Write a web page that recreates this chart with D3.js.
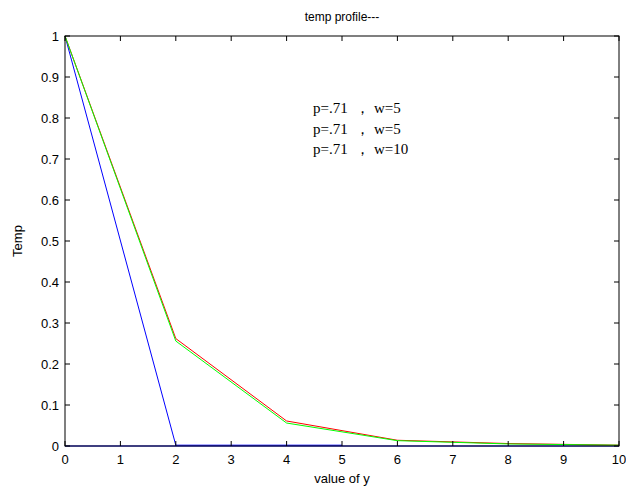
<!DOCTYPE html>
<html>
<head>
<meta charset="utf-8">
<script src="https://cdn.jsdelivr.net/npm/d3@7"></script>
<style>
  body { margin: 0; background: #fff; }
  text { font-family: "Liberation Sans", Arial, sans-serif; }
</style>
</head>
<body>
<div id="chart"></div>
<script>
const width = 626, height = 488;
const margin = { top: 36, right: 7, bottom: 42, left: 65 };

// data
const xRed = [0, 2, 4, 6, 8, 10];
const yRed = [1, 0.262, 0.061, 0.014, 0.006, 0.002];
const xGreen = [0, 2, 4, 6, 8, 10];
const yGreen = [1, 0.256, 0.056, 0.013, 0.005, 0.002];
const xBlue = [0, 2, 4, 5];
const yBlue = [1, 0.002, 0.002, 0.002];
const xBlueTail = [0, 10];
const yBlueTail = [0, 0];

const xTicks = d3.range(0, 11, 1);
const yTicks = d3.range(0, 1.01, 0.1);
const legendLines = ["p=.71  \uFF0C w=5", "p=.71  \uFF0C w=5", "p=.71  \uFF0C w=10"];

const svg = d3.select("#chart").append("svg")
  .attr("width", width)
  .attr("height", height);

const x = d3.scaleLinear().domain([0, 10]).range([margin.left, width - margin.right]);
const y = d3.scaleLinear().domain([0, 1]).range([height - margin.bottom, margin.top]);

const line = d3.line().x(d => x(d[0])).y(d => y(d[1]));
const pairs = (xs, ys) => xs.map((v, i) => [v, ys[i]]);

// series
svg.append("path").datum(pairs(xBlueTail, yBlueTail))
  .attr("d", line).attr("fill", "none").attr("stroke", "#0000ff").attr("stroke-width", 1.2);
svg.append("path").datum(pairs(xBlue, yBlue))
  .attr("d", line).attr("fill", "none").attr("stroke", "#0000ff").attr("stroke-width", 1);
svg.append("path").datum(pairs(xRed, yRed))
  .attr("d", line).attr("fill", "none").attr("stroke", "#ff0000").attr("stroke-width", 1);
svg.append("path").datum(pairs(xGreen, yGreen))
  .attr("d", line).attr("fill", "none").attr("stroke", "#00ff00").attr("stroke-width", 1);

// axes box with inward ticks
const tick = 5;
const g = svg.append("g").attr("stroke", "#000").attr("stroke-width", 1);
g.append("rect")
  .attr("x", x(0)).attr("y", y(1))
  .attr("width", x(10) - x(0)).attr("height", y(0) - y(1))
  .attr("fill", "none");

xTicks.forEach(t => {
  g.append("line").attr("x1", x(t)).attr("x2", x(t)).attr("y1", y(0)).attr("y2", y(0) - tick);
  g.append("line").attr("x1", x(t)).attr("x2", x(t)).attr("y1", y(1)).attr("y2", y(1) + tick);
});
yTicks.forEach(t => {
  g.append("line").attr("y1", y(t)).attr("y2", y(t)).attr("x1", x(0)).attr("x2", x(0) + tick);
  g.append("line").attr("y1", y(t)).attr("y2", y(t)).attr("x1", x(10)).attr("x2", x(10) - tick);
});

// tick labels
svg.append("g").selectAll("text").data(xTicks).enter().append("text")
  .attr("x", d => x(d)).attr("y", y(0) + 18)
  .attr("text-anchor", "middle").attr("font-size", 13).attr("fill", "#000")
  .text(d => d);

svg.append("g").selectAll("text").data(yTicks).enter().append("text")
  .attr("x", x(0) - 6).attr("y", d => y(d) + 5)
  .attr("text-anchor", "end").attr("font-size", 13).attr("fill", "#000")
  .text(d => d3.format("~g")(+d.toFixed(1)));

// titles
svg.append("text").attr("x", (x(0) + x(10)) / 2).attr("y", 21)
  .attr("text-anchor", "middle").attr("font-size", 12).text("temp profile---");
svg.append("text").attr("x", (x(0) + x(10)) / 2).attr("y", 483)
  .attr("text-anchor", "middle").attr("font-size", 13).text("value of y");
svg.append("text").attr("transform", `translate(22,${(y(0) + y(1)) / 2}) rotate(-90)`)
  .attr("text-anchor", "middle").attr("font-size", 13).text("Temp");

// legend text
svg.append("g").selectAll("text").data(legendLines).enter().append("text")
  .attr("x", 313).attr("y", (d, i) => 113 + i * 20.5)
  .attr("font-size", 15)
  .style("font-family", "'Liberation Serif', 'Times New Roman', serif")
  .style("white-space", "pre")
  .text(d => d);
</script>
</body>
</html>
